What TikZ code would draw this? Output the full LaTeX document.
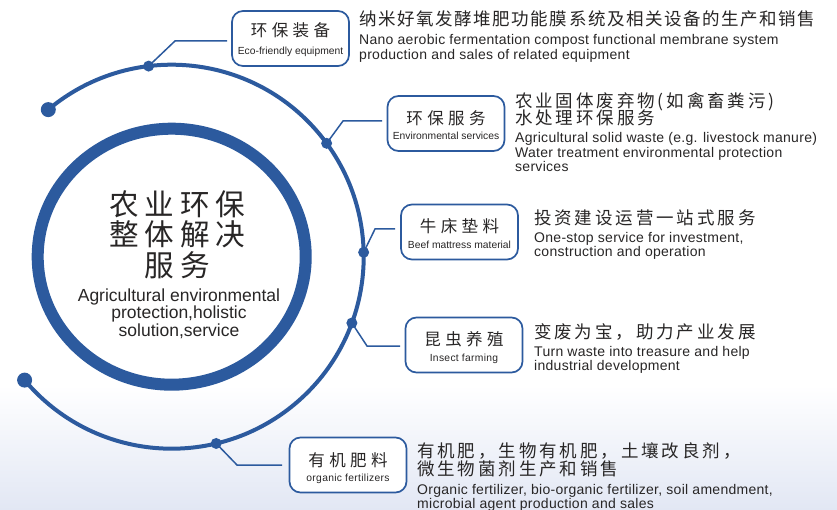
\documentclass[tikz,border=0pt]{standalone}
\usepackage{fontspec}
\setmainfont{Liberation Sans}
\newfontfamily\cjk{Noto Sans CJK SC}
\usetikzlibrary{calc}
\definecolor{mainblue}{RGB}{44,90,158}
\definecolor{txtgray}{RGB}{40,38,38}
\definecolor{bgbot}{RGB}{226,231,244}
\newcommand\zh[3]{{\fontsize{#1}{#1}\cjk\addfontfeature{LetterSpace=#2}#3}}
\newcommand\en[3]{{\fontsize{#1}{#1}\selectfont\addfontfeature{LetterSpace=#2}#3}}
\tikzset{
  boxstyle/.style={draw=mainblue, line width=1.7pt, rounded corners=11pt, fill=white,
    minimum width=117pt, minimum height=55pt, inner sep=0pt},
  link/.style={draw=mainblue, line width=1.5pt},
  txt/.style={text=txtgray, inner sep=0pt, anchor=base west},
  ctxt/.style={text=txtgray, inner sep=0pt, anchor=base},
  bigdot/.style={fill=mainblue, circle, inner sep=0pt, minimum size=15pt},
  smalldot/.style={fill=mainblue, circle, inner sep=0pt, minimum size=11pt}
}
\begin{document}
\begin{tikzpicture}[x=1pt,y=-1pt]
\useasboundingbox (0,0) rectangle (837,510);
\fill[white] (0,0) rectangle (837,510);
\shade[top color=white, bottom color=bgbot] (0,385) rectangle (837,510);

\coordinate (C) at (171.7,256.7);
% inner ring
\draw[mainblue, line width=12pt] (C) ellipse [x radius=134, y radius=128];
% outer arc
\draw[mainblue, line width=4pt] ($(C)+(-130:192)$) arc[start angle=-130, end angle=140, radius=192];

% dots positions
\coordinate (d1) at ($(C)+(-96.9:192)$);
\coordinate (d2) at ($(C)+(-36.2:192)$);
\coordinate (d3) at ($(C)+(-1.3:192)$);
\coordinate (d4) at ($(C)+(20.2:192)$);
\coordinate (d5) at ($(C)+(76.6:192)$);

% bends and ends
\coordinate (b1) at (175,41);  \coordinate (k1) at (227,41);
\coordinate (b2) at (343,121); \coordinate (k2) at (382,121);
\coordinate (b3) at (375,229); \coordinate (k3) at (395,229);
\coordinate (b4) at (367,346); \coordinate (k4) at (400,346);
\coordinate (b5) at (237,465); \coordinate (k5) at (282,465);

\draw[link] (d1) -- (b1) -- (k1);
\draw[link] (d2) -- (b2) -- (k2);
\draw[link] (d3) -- (b3) -- (k3);
\draw[link] (d4) -- (b4) -- (k4);
\draw[link] (d5) -- (b5) -- (k5);

\node[bigdot] (e1) at ($(C)+(-130:192)$) {};
\node[bigdot] (e2) at ($(C)+(140:192)$) {};
\node[smalldot] (s1) at (d1) {};
\node[smalldot] (s2) at (d2) {};
\node[smalldot] (s3) at (d3) {};
\node[smalldot] (s4) at (d4) {};
\node[smalldot] (s5) at (d5) {};

% center text
\node[ctxt] (c1) at (177.3,215.4) {\zh{29.6}{19}{农业环保}};
\node[ctxt] (c2) at (177.3,245.6) {\zh{29.6}{19}{整体解决}};
\node[ctxt] (c3) at (177.3,276.5) {\zh{29.6}{19}{服务}};
\node[ctxt] (c4) at (179,301.7) {\en{17.5}{0}{Agricultural environmental}};
\node[ctxt] (c5) at (179,318.5) {\en{17.5}{0}{protection,holistic}};
\node[ctxt] (c6) at (179,336) {\en{17.5}{0}{solution,service}};

% boxes
\node[boxstyle] (box1) at (290.5,38.5) {};
\node[boxstyle] (box2) at (446,123.5) {};
\node[boxstyle] (box3) at (459.5,232) {};
\node[boxstyle] (box4) at (464,345) {};
\node[boxstyle] (box5) at (348,465) {};

\node[ctxt] (h1) at ($(box1.center)+(0,-2)$) {\zh{16.5}{27}{环保装备}};
\node[ctxt] (g1) at ($(box1.center)+(0,16.5)$) {\en{10.3}{0}{Eco-friendly equipment}};
\node[ctxt] (h2) at ($(box2.center)+(0,1)$) {\zh{16.5}{27}{环保服务}};
\node[ctxt] (g2) at ($(box2.center)+(0,16)$) {\en{10.3}{0}{Environmental services}};
\node[ctxt] (h3) at ($(box3.center)+(0,1)$) {\zh{16.5}{27}{牛床垫料}};
\node[ctxt] (g3) at ($(box3.center)+(0,17)$) {\en{10.3}{0}{Beef mattress material}};
\node[ctxt] (h4) at ($(box4.center)+(0,0.5)$) {\zh{16.5}{27}{昆虫养殖}};
\node[ctxt] (g4) at ($(box4.center)+(0,16)$) {\en{10.3}{3}{Insect farming}};
\node[ctxt] (h5) at ($(box5.center)+(0,1)$) {\zh{16.5}{27}{有机肥料}};
\node[ctxt] (g5) at ($(box5.center)+(0,16)$) {\en{10.3}{3}{organic fertilizers}};

% descriptions
\node[txt] (t1z) at (359,26) {\zh{17.5}{9}{纳米好氧发酵堆肥功能膜系统及相关设备的生产和销售}};
\node[txt] (t1a) at (359,45) {\en{14}{2}{Nano aerobic fermentation compost functional membrane system}};
\node[txt] (t1b) at (359,59.5) {\en{14}{2}{production and sales of related equipment}};

\node[txt] (t2z) at (515,108) {\zh{17.5}{16.5}{农业固体废弃物(如禽畜粪污)}};
\node[txt] (t2y) at (515,125) {\zh{17.5}{16.5}{水处理环保服务}};
\node[txt] (t2a) at (515,142.5) {\en{14}{2}{Agricultural solid waste (e.g. livestock manure)}};
\node[txt] (t2b) at (515,157.3) {\en{14}{2}{Water treatment environmental protection}};
\node[txt] (t2c) at (515,171.7) {\en{14}{2}{services}};

\node[txt] (t3z) at (534,224.5) {\zh{17.5}{16.5}{投资建设运营一站式服务}};
\node[txt] (t3a) at (534,242.3) {\en{14}{2}{One-stop service for investment,}};
\node[txt] (t3b) at (534,256.7) {\en{14}{2}{construction and operation}};

\node[txt] (t4z) at (534,338.5) {\zh{17.5}{16.5}{变废为宝，助力产业发展}};
\node[txt] (t4a) at (534,356) {\en{14}{2}{Turn waste into treasure and help}};
\node[txt] (t4b) at (534,370) {\en{14}{2}{industrial development}};

\node[txt] (t5z) at (417,457) {\zh{17.5}{16.5}{有机肥，生物有机肥，土壤改良剂，}};
\node[txt] (t5y) at (417,475) {\zh{17.5}{16.5}{微生物菌剂生产和销售}};
\node[txt] (t5a) at (417,494) {\en{14}{2}{Organic fertilizer, bio-organic fertilizer, soil amendment,}};
\node[txt] (t5b) at (417,508) {\en{14}{2}{microbial agent production and sales}};
\end{tikzpicture}
\end{document}
